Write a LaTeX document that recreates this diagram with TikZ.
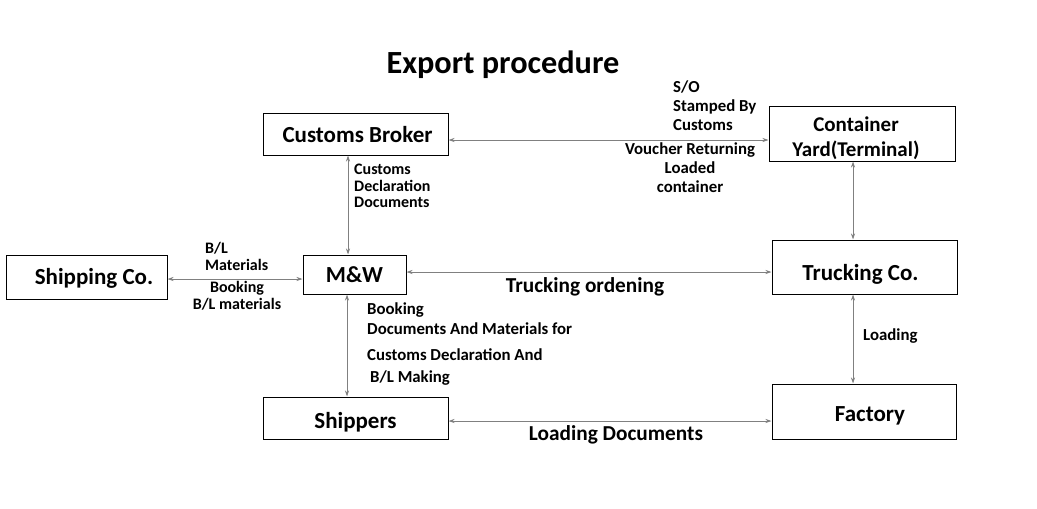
\documentclass[tikz,border=0pt]{standalone}
\usepackage{fontspec}
\setmainfont{Carlito}
\usetikzlibrary{arrows.meta}
\definecolor{linegray}{RGB}{128,128,128}
\newcommand{\shiftdown}[2]{\raisebox{-#1}[\height][\depth]{#2}}
\tikzset{
  box/.style={draw=black, line width=1pt, rectangle, inner sep=0pt, font=\bfseries\fontsize{23}{26}\selectfont},
  conn/.style={draw=linegray, line width=0.9pt, {Stealth[length=6pt,width=4pt]}-{Stealth[length=6pt,width=4pt]}},
  small/.style={inner sep=0pt, font=\bfseries\fontsize{16.8}{19}\selectfont},
  medium/.style={inner sep=0pt, font=\bfseries\fontsize{21.3}{24}\selectfont},
}
\begin{document}
\begin{tikzpicture}[x=1pt,y=-1pt]
\useasboundingbox (0,0) rectangle (1037,509);
% title
\node[inner sep=0pt, font=\bfseries\fontsize{32.3}{36}\selectfont] (title) at (503,65) {Export procedure};
% boxes
\node[box, minimum width=185pt, minimum height=42pt] (cb) at (355.5,134) {\hspace*{4pt}\shiftdown{1pt}{Customs Broker}};
\node[box, minimum width=186pt, minimum height=55pt, font=\bfseries\fontsize{21}{25}\selectfont] (cy) at (862,133.5) {\shiftdown{5pt}{\begin{tabular}{@{}c@{}}Container\\Yard(Terminal)\end{tabular}}\hspace*{12pt}};
\node[box, minimum width=161pt, minimum height=44pt] (sc) at (86.5,277) {\hspace*{15pt}\shiftdown{1pt}{Shipping Co.}};
\node[box, minimum width=103pt, minimum height=39pt] (mw) at (354.5,274.5) {M\&W};
\node[box, minimum width=185pt, minimum height=54pt] (tc) at (864.5,267) {\shiftdown{7pt}{Trucking Co.}\hspace*{8pt}};
\node[box, minimum width=185pt, minimum height=42pt] (sh) at (355.5,418) {\shiftdown{4pt}{Shippers}};
\node[box, minimum width=184pt, minimum height=55pt] (fa) at (864,411.5) {\hspace*{12pt}\shiftdown{4pt}{Factory}};
% connectors
\draw[conn] ([yshift=-6pt]cb.east) -- ([yshift=-6pt]cb.east -| cy.west);
\draw[conn] ([xshift=-6.5pt]mw.north) -- ([xshift=-6.5pt]mw.north |- cb.south);
\draw[conn] ([yshift=-2pt]sc.east) -- ([yshift=-2pt]sc.east -| mw.west);
\draw[conn] ([yshift=2.5pt]mw.east) -- ([yshift=2.5pt]mw.east -| tc.west);
\draw[conn] ([xshift=-7.5pt]mw.south) -- ([xshift=-7.5pt]mw.south |- sh.north);
\draw[conn] ([yshift=-3pt]sh.east) -- ([yshift=-3pt]sh.east -| fa.west);
\draw[conn] ([xshift=-9pt]cy.south) -- ([xshift=-9pt]cy.south |- tc.north);
\draw[conn] ([xshift=-11.5pt]tc.south) -- ([xshift=-11.5pt]tc.south |- fa.north);
% labels
\node[small, anchor=west, align=left] (l1) at (673,106) {S/O\\Stamped By\\Customs};
\node[small, align=center] (l2) at (690,168) {Voucher Returning\\Loaded\\container};
\node[small, anchor=west, align=left, font=\bfseries\fontsize{16}{16.5}\selectfont] (l3) at (354,186) {Customs\\Declaration\\Documents};
\node[small, anchor=west, align=left, font=\bfseries\fontsize{16}{17}\selectfont] (l4) at (205,256.5) {B/L\\Materials};
\node[small, align=center, font=\bfseries\fontsize{16}{17}\selectfont] (l5) at (237,295.5) {Booking\\B/L materials};
\node[medium] (l6) at (585,287) {Trucking ordening};
\node[small, anchor=west] (l7) at (367,310) {Booking};
\node[small, anchor=west] (l8) at (367,329) {Documents And Materials for};
\node[small, anchor=west] (l9) at (367,355) {Customs Declaration And};
\node[small, anchor=west] (l10) at (370,378) {B/L Making};
\node[small, anchor=west] (l11) at (863,336) {Loading};
\node[medium] (l12) at (616,435) {Loading Documents};
\end{tikzpicture}
\end{document}
